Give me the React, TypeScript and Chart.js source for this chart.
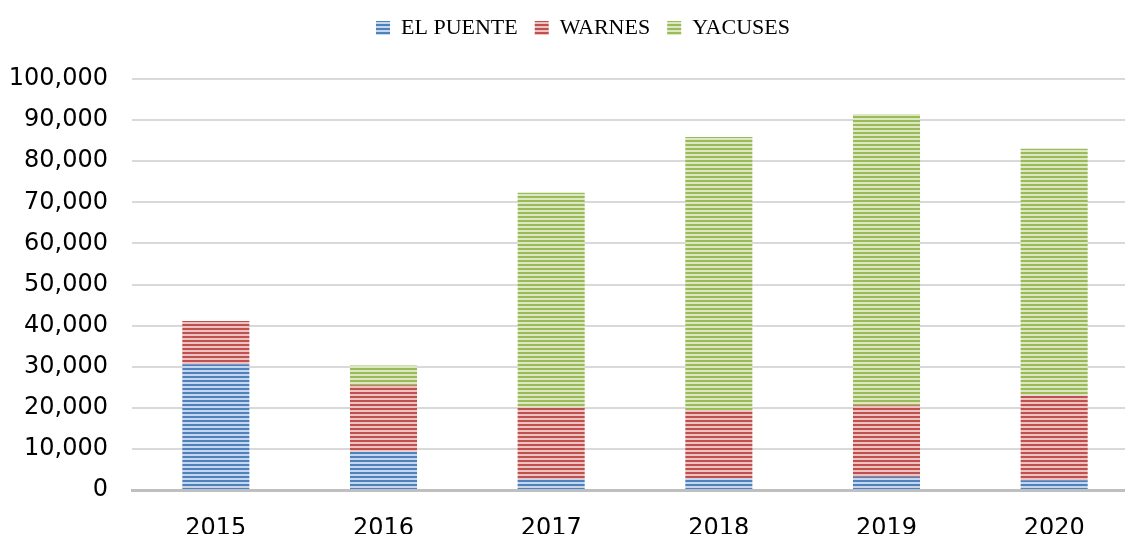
import React, { useEffect, useRef } from "react";
import { Chart, registerables } from "chart.js";

Chart.register(...registerables);

const years = ["2015", "2016", "2017", "2018", "2019", "2020"];
const elPuente = [30600, 9300, 2700, 2900, 3200, 2400];
const warnes = [10500, 16200, 17400, 16500, 17400, 20600];
const yacuses = [0, 4800, 52200, 66500, 70900, 60000];
const seriesNames = ["EL PUENTE", "WARNES", "YACUSES"];

function stripes(dark: string, light: string): CanvasPattern | string {
  const c = document.createElement("canvas");
  c.width = 4;
  c.height = 4;
  const ctx = c.getContext("2d");
  if (!ctx) return dark;
  ctx.fillStyle = light;
  ctx.fillRect(0, 0, 4, 4);
  ctx.fillStyle = dark;
  ctx.fillRect(0, 0, 4, 2);
  const p = ctx.createPattern(c, "repeat");
  return p || dark;
}

const legendFitPlugin = {
  id: "legendFit",
  beforeInit(chart: any) {
    const orig = chart.legend.fit;
    chart.legend.fit = function () {
      orig.bind(chart.legend)();
      this.height += 30;
    };
  },
  afterLayout(chart: any) {
    if (chart.legend) {
      chart.legend.left += 14;
      chart.legend.right += 14;
    }
  },
};

export default function App() {
  const ref = useRef<HTMLCanvasElement>(null);
  useEffect(() => {
    if (!ref.current) return;
    const blue = stripes("#4F81BD", "#C6D6EC");
    const red = stripes("#C0504D", "#EBC3C2");
    const green = stripes("#9BBB59", "#DCE8C4");
    const chart = new Chart(ref.current, {
      type: "bar",
      data: {
        labels: years,
        datasets: [
          { label: seriesNames[0], data: elPuente, backgroundColor: blue as any, borderWidth: 0 },
          { label: seriesNames[1], data: warnes, backgroundColor: red as any, borderWidth: 0 },
          { label: seriesNames[2], data: yacuses, backgroundColor: green as any, borderWidth: 0 },
        ],
      },
      plugins: [legendFitPlugin],
      options: {
        responsive: false,
        animation: false,
        layout: { padding: { left: 0, right: 2, top: 0, bottom: 0 } },
        datasets: { bar: { categoryPercentage: 1, barPercentage: 0.4 } },
        plugins: {
          tooltip: { enabled: false },
          legend: {
            position: "top",
            labels: {
              boxWidth: 14,
              boxHeight: 14,
              padding: 17,
              color: "#000",
              font: { family: "'Liberation Serif', 'DejaVu Serif', serif", size: 22 },
            },
          },
        },
        scales: {
          x: {
            stacked: true,
            grid: { display: false },
            border: { display: true, color: "#BFBFBF", width: 3 },
            ticks: {
              color: "#000",
              padding: 16,
              font: { family: "'DejaVu Sans', Verdana, sans-serif", size: 24 },
            },
            afterFit(s: any) {
              s.height = 44;
            },
          },
          y: {
            stacked: true,
            min: 0,
            max: 100000,
            grid: { color: "#D9D9D9", lineWidth: 2, drawTicks: false },
            border: { display: false },
            ticks: {
              stepSize: 10000,
              color: "#000",
              padding: 24,
              font: { family: "'DejaVu Sans', Verdana, sans-serif", size: 24 },
              callback: (v: any) => Number(v).toLocaleString("en-US"),
            },
            afterFit(s: any) {
              s.width = 132;
            },
          },
        },
      },
    });
    return () => chart.destroy();
  }, []);
  return (
    <div style={{ position: "fixed", left: 0, top: 0, width: 1140, height: 534, background: "#fff" }}>
      <canvas ref={ref} width={1140} height={534} />
    </div>
  );
}
